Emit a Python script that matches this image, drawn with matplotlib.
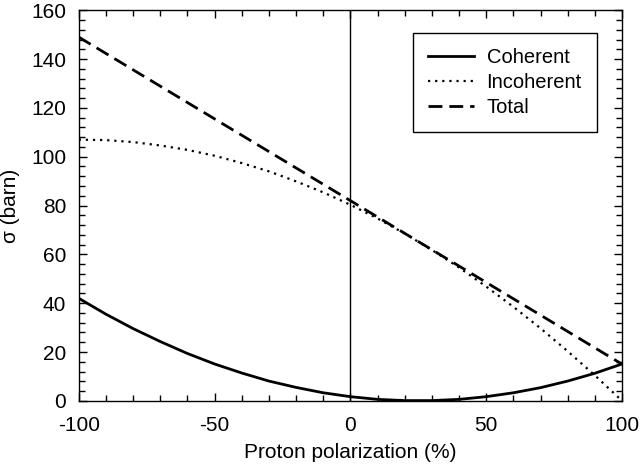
import matplotlib
matplotlib.use('Agg')
import numpy as np
from matplotlib import pyplot as plt
from matplotlib.ticker import MultipleLocator

plt.rcParams['font.family'] = ['Liberation Sans', 'DejaVu Sans']
plt.rcParams['axes.unicode_minus'] = False

# values, every 10 %
polarization = [-100, -90, -80, -70, -60, -50, -40, -30, -20, -10, 0,
                10, 20, 30, 40, 50, 60, 70, 80, 90, 100]
coherent = [42.0, 35.5, 29.6, 24.3, 19.4, 15.1, 11.4, 8.1, 5.5, 3.3, 1.7,
            0.6, 0.1, 0.1, 0.6, 1.7, 3.3, 5.4, 8.1, 11.3, 15.1]
incoherent = [107.0, 106.8, 106.0, 104.6, 102.8, 100.4, 97.4, 94.0, 89.9, 85.4, 80.3,
              74.7, 68.5, 61.8, 54.6, 46.8, 38.5, 29.7, 20.3, 10.4, 0.0]
total = [149.0, 142.3, 135.6, 128.9, 122.2, 115.5, 108.8, 102.1, 95.4, 88.7, 82.0,
         75.3, 68.6, 61.9, 55.2, 48.5, 41.8, 35.1, 28.4, 21.7, 15.0]

fig = plt.figure(figsize=(6.4, 4.65), dpi=100)
ax = fig.add_axes([0.123, 0.138, 0.849, 0.84])

ax.plot(polarization, coherent, 'k-', lw=2, label='Coherent')
ax.plot(polarization, incoherent, 'k', ls=(0, (1, 2.2)), lw=1.6, label='Incoherent')
ax.plot(polarization, total, 'k', ls=(0, (5, 2.5)), lw=2, label='Total')
ax.axvline(0, color='k', lw=1)

ax.set_xlim(-100, 100)
ax.set_ylim(0, 160)
ax.xaxis.set_major_locator(MultipleLocator(50))
ax.xaxis.set_minor_locator(MultipleLocator(10))
ax.yaxis.set_major_locator(MultipleLocator(20))
ax.yaxis.set_minor_locator(MultipleLocator(4))
ax.tick_params(which='both', direction='in', top=True, right=True, labelsize=15, width=1)
ax.tick_params(which='major', length=6)
ax.tick_params(axis='x', which='major', pad=11)
ax.tick_params(axis='y', which='major', pad=9)
ax.tick_params(which='minor', length=4)
for s in ax.spines.values():
    s.set_linewidth(1)

ax.set_xlabel('Proton polarization (%)', fontsize=15, labelpad=6)
ax.set_ylabel('σ (barn)', fontsize=15, labelpad=8)

leg = ax.legend(loc='upper right', bbox_to_anchor=(0.961, 0.953), fontsize=14.5,
                fancybox=False, edgecolor='k', framealpha=1,
                handlelength=2.3, handletextpad=0.6, borderpad=0.75,
                labelspacing=0.3, borderaxespad=0.2)
leg.get_frame().set_linewidth(1)

plt.savefig('out.png', dpi=100)
